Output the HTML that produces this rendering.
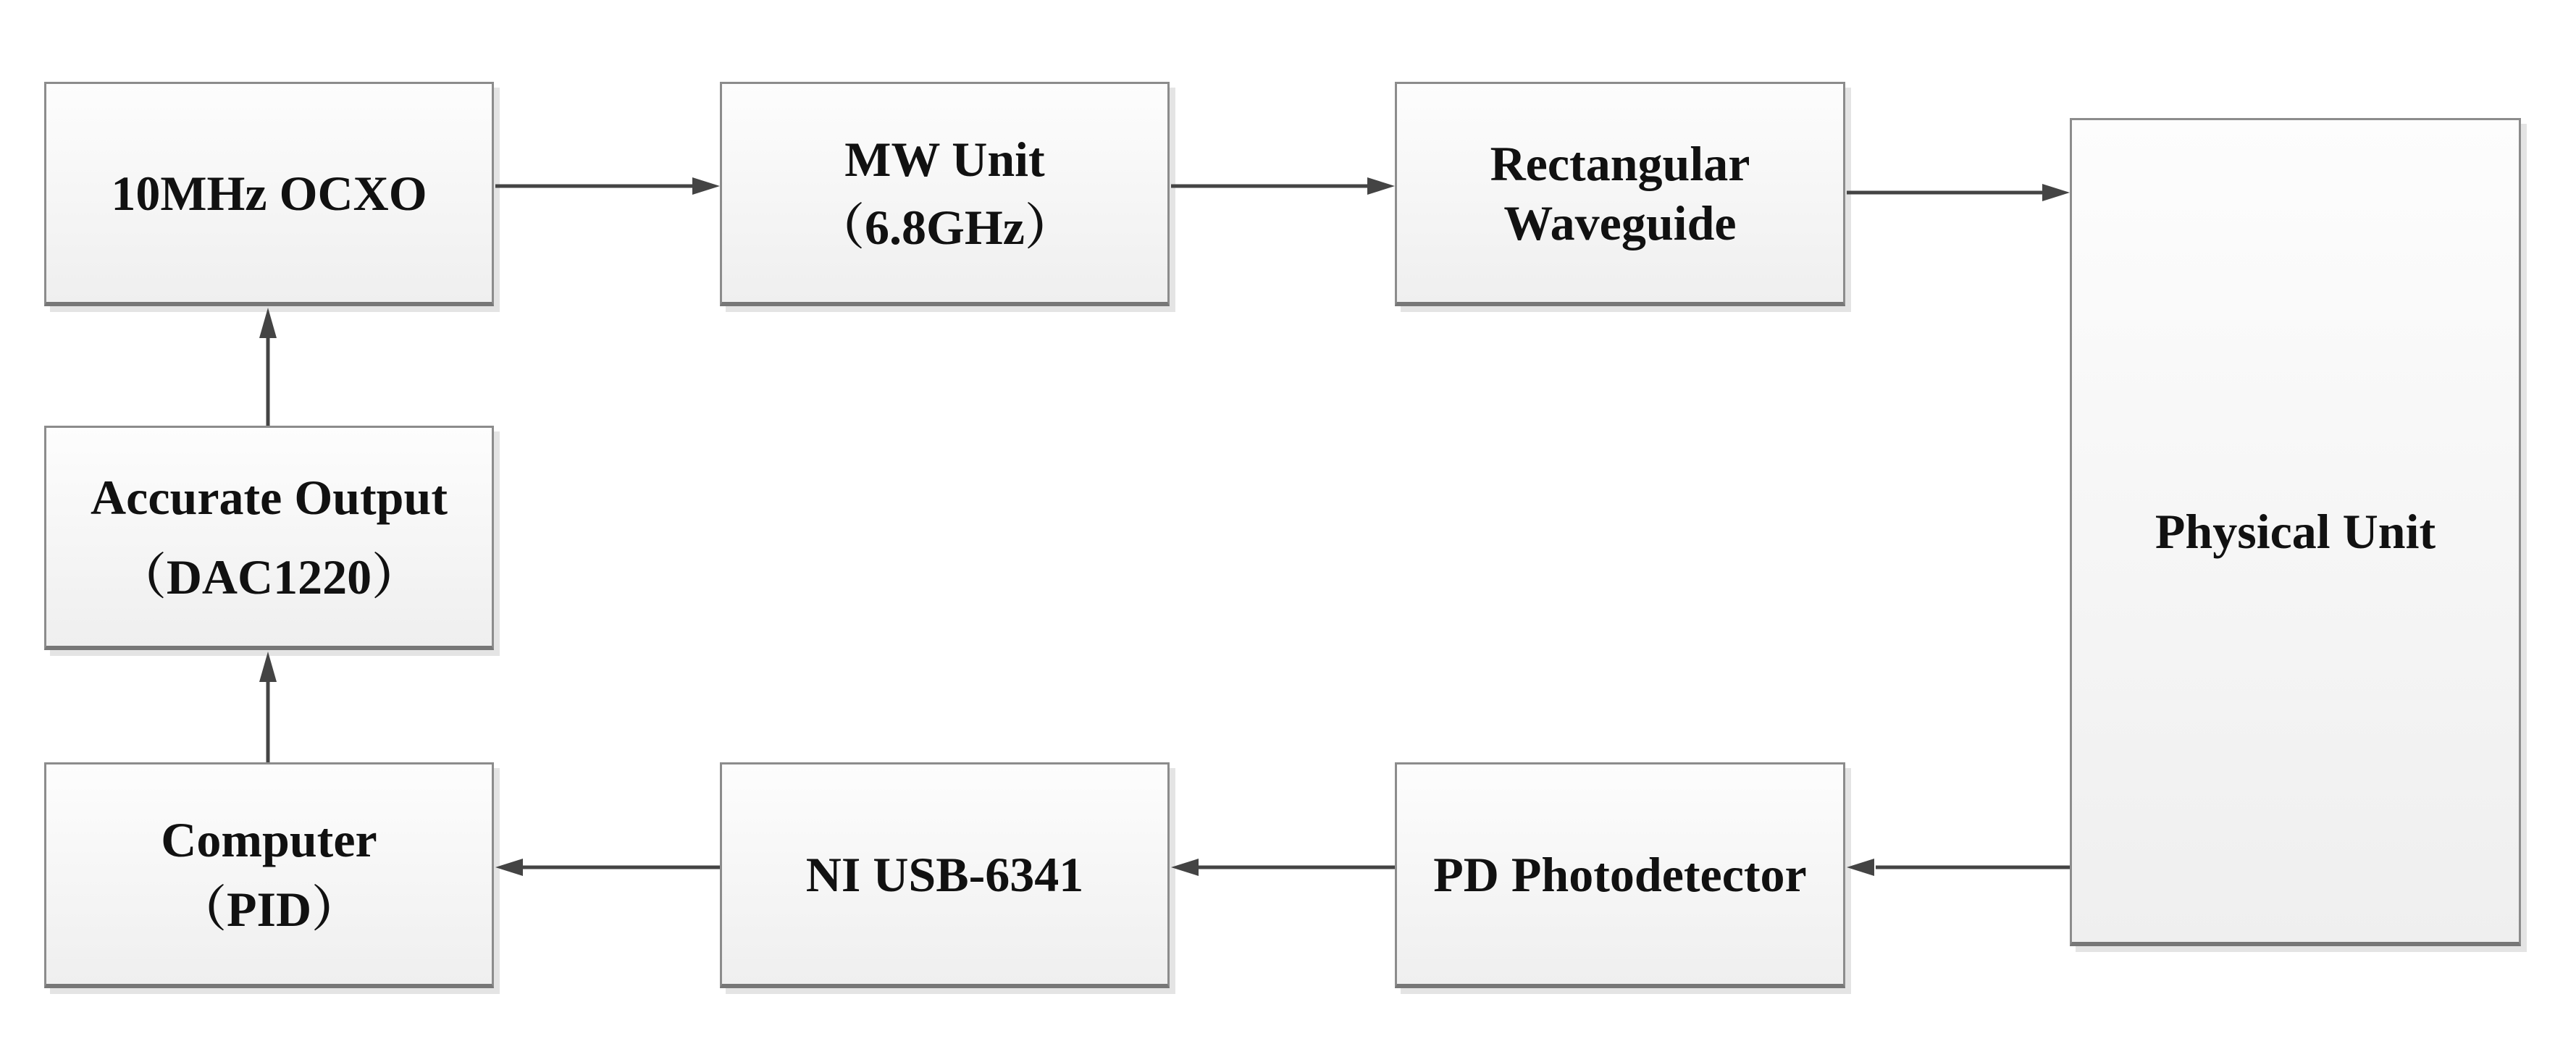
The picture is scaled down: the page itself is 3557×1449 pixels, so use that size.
<!DOCTYPE html>
<html><head><meta charset="utf-8"><style>
html,body{margin:0;padding:0;background:#fff;}
body{width:3557px;height:1449px;position:relative;overflow:hidden;}
.b{position:absolute;box-sizing:border-box;border:3px solid #8c8c8c;border-bottom:6px solid #777;background:linear-gradient(#fdfdfd,#efefef);box-shadow:8px 8px 0 #e4e4e4;display:flex;align-items:center;justify-content:center;text-align:center;font-family:"Liberation Serif","Times New Roman",Times,"Noto Serif CJK SC",serif;font-weight:bold;font-size:68px;line-height:94px;color:#111;}
svg{position:absolute;left:0;top:0;}
</style></head><body>
<div class="b" style="left:61px;top:113px;width:621px;height:310px;">10MHz OCXO</div>
<div class="b" style="left:994px;top:113px;width:621px;height:310px;">MW Unit<br>（6.8GHz）</div>
<div class="b" style="left:1926px;top:113px;width:622px;height:310px;line-height:82px;">Rectangular<br>Waveguide</div>
<div class="b" style="left:2858px;top:163px;width:623px;height:1144px;">Physical Unit</div>
<div class="b" style="left:61px;top:588px;width:621px;height:310px;line-height:110px;">Accurate Output<br>（DAC1220）</div>
<div class="b" style="left:61px;top:1053px;width:621px;height:312px;line-height:96px;">Computer<br>（PID）</div>
<div class="b" style="left:994px;top:1053px;width:621px;height:312px;">NI USB-6341</div>
<div class="b" style="left:1926px;top:1053px;width:622px;height:312px;">PD Photodetector</div>
<svg width="3557" height="1449">
<g stroke="#444" stroke-width="5" fill="none">
<line x1="684" y1="257" x2="960" y2="257"/>
<line x1="1617" y1="257" x2="1892" y2="257"/>
<line x1="2550" y1="266" x2="2825" y2="266"/>
<line x1="2858" y1="1198" x2="2590" y2="1198"/>
<line x1="1926" y1="1198" x2="1655" y2="1198"/>
<line x1="994" y1="1198" x2="722" y2="1198"/>
<line x1="370" y1="1053" x2="370" y2="940"/>
<line x1="370" y1="588" x2="370" y2="465"/>
</g>
<g fill="#444">
<polygon points="994,257 956,245 956,269"/>
<polygon points="1926,257 1888,245 1888,269"/>
<polygon points="2858,266 2820,254 2820,278"/>
<polygon points="2550,1198 2588,1186 2588,1210"/>
<polygon points="1617,1198 1655,1186 1655,1210"/>
<polygon points="684,1198 722,1186 722,1210"/>
<polygon points="370,900 358,942 382,942"/>
<polygon points="370,425 358,467 382,467"/>
</g>
</svg>
</body></html>
